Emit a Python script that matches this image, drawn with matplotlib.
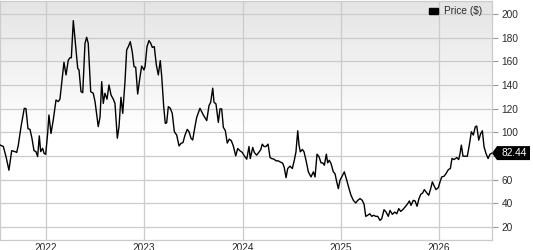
import matplotlib
matplotlib.use("Agg")
import matplotlib.pyplot as plt
from matplotlib.patches import Patch, Polygon
import numpy as np

plt.rcParams['font.family'] = ['Liberation Sans', 'DejaVu Sans']

# decimal years and weekly-ish closing prices
years = [
    2021.532, 2021.566, 2021.593, 2021.623, 2021.651, 2021.684, 2021.702, 2021.718,
    2021.746, 2021.779, 2021.796, 2021.817, 2021.837, 2021.857, 2021.878, 2021.898,
    2021.915, 2021.932, 2021.946, 2021.966, 2021.980, 2021.997, 2022.017, 2022.030,
    2022.051, 2022.074, 2022.102, 2022.125, 2022.142, 2022.163, 2022.183, 2022.204,
    2022.227, 2022.244, 2022.258, 2022.278, 2022.305, 2022.323, 2022.336, 2022.356,
    2022.374, 2022.397, 2022.414, 2022.430, 2022.455, 2022.481, 2022.499, 2022.532,
    2022.550, 2022.567, 2022.583, 2022.600, 2022.621, 2022.641, 2022.662, 2022.685,
    2022.702, 2022.726, 2022.743, 2022.763, 2022.781, 2022.804, 2022.821, 2022.838,
    2022.858, 2022.878, 2022.896, 2022.913, 2022.933, 2022.957, 2022.974, 2022.997,
    2023.008, 2023.028, 2023.048, 2023.066, 2023.082, 2023.102, 2023.123, 2023.143,
    2023.163, 2023.178, 2023.198, 2023.214, 2023.228, 2023.245, 2023.265, 2023.285,
    2023.306, 2023.330, 2023.354, 2023.374, 2023.394, 2023.415, 2023.438, 2023.455,
    2023.476, 2023.493, 2023.516, 2023.534, 2023.567, 2023.601, 2023.636, 2023.659,
    2023.676, 2023.697, 2023.710, 2023.730, 2023.754, 2023.771, 2023.788, 2023.805,
    2023.825, 2023.845, 2023.866, 2023.886, 2023.906, 2023.931, 2023.951, 2023.974,
    2023.998, 2024.018, 2024.043, 2024.066, 2024.079, 2024.104, 2024.120, 2024.144,
    2024.165, 2024.185, 2024.201, 2024.219, 2024.239, 2024.260, 2024.280, 2024.297,
    2024.321, 2024.341, 2024.364, 2024.382, 2024.409, 2024.425, 2024.443, 2024.460,
    2024.483, 2024.507, 2024.527, 2024.544, 2024.562, 2024.575, 2024.588, 2024.609,
    2024.626, 2024.646, 2024.670, 2024.697, 2024.721, 2024.738, 2024.758, 2024.779,
    2024.799, 2024.816, 2024.833, 2024.853, 2024.867, 2024.883, 2024.901, 2024.924,
    2024.941, 2024.959, 2024.975, 2024.992, 2025.010, 2025.036, 2025.061, 2025.084,
    2025.104, 2025.128, 2025.152, 2025.173, 2025.196, 2025.219, 2025.237, 2025.254,
    2025.274, 2025.295, 2025.315, 2025.335, 2025.356, 2025.376, 2025.399, 2025.417,
    2025.440, 2025.461, 2025.484, 2025.501, 2025.525, 2025.549, 2025.570, 2025.590,
    2025.610, 2025.631, 2025.654, 2025.677, 2025.698, 2025.715, 2025.738, 2025.756,
    2025.776, 2025.796, 2025.814, 2025.834, 2025.850, 2025.875, 2025.895, 2025.915,
    2025.932, 2025.952, 2025.969, 2025.993, 2026.010, 2026.027, 2026.051, 2026.071,
    2026.095, 2026.115, 2026.132, 2026.153, 2026.180, 2026.200, 2026.214, 2026.227,
    2026.244, 2026.268, 2026.288, 2026.308, 2026.329, 2026.349, 2026.369, 2026.384,
    2026.404, 2026.424, 2026.441, 2026.458, 2026.478, 2026.499, 2026.519, 2026.539,
]
prices = [
    89.3, 88.0, 79.5, 68.0, 84.5, 83.7, 83.0, 89.0,
    104.8, 120.3, 120.0, 103.0, 102.5, 95.0, 84.5, 83.7,
    79.5, 97.0, 83.7, 86.5, 82.3, 81.4, 99.2, 114.6,
    99.0, 110.4, 127.3, 126.0, 128.0, 144.2, 159.2, 148.5,
    161.0, 163.0, 163.0, 194.4, 169.6, 154.0, 152.7, 134.4,
    133.5, 175.2, 180.3, 175.2, 134.4, 133.0, 126.0, 104.8,
    113.0, 142.8, 124.5, 133.0, 128.0, 140.0, 131.5, 128.0,
    124.5, 95.0, 104.8, 129.6, 116.0, 142.8, 169.6, 172.4,
    176.6, 168.0, 155.5, 155.0, 132.4, 147.0, 156.0, 152.7,
    155.5, 172.4, 177.5, 175.2, 171.8, 172.4, 157.0, 148.5,
    160.6, 147.0, 121.7, 107.6, 108.0, 121.7, 120.3, 116.0,
    100.6, 97.7, 88.5, 90.7, 91.3, 97.7, 102.5, 100.6,
    95.0, 93.5, 104.8, 112.7, 120.3, 114.7, 109.9, 122.6,
    125.4, 137.3, 125.4, 124.0, 108.4, 119.8, 119.8, 104.2,
    101.4, 90.9, 94.3, 92.9, 88.6, 80.1, 86.3, 84.4,
    83.0, 80.1, 77.3, 88.0, 77.8, 87.2, 83.0, 80.7,
    83.0, 85.2, 90.0, 88.0, 88.0, 90.0, 78.7, 77.8,
    77.3, 75.9, 75.9, 75.0, 73.9, 70.2, 61.7, 69.4,
    71.4, 69.4, 76.4, 83.5, 101.3, 89.2, 83.5, 85.5,
    83.5, 76.4, 66.6, 62.3, 66.6, 62.3, 81.5, 79.3,
    74.2, 74.2, 72.2, 81.5, 74.2, 76.4, 73.6, 66.6,
    65.1, 58.1, 52.4, 59.5, 62.3, 66.6, 59.5, 52.4,
    46.8, 42.5, 40.3, 42.5, 44.0, 42.5, 39.2, 29.0,
    29.9, 31.2, 29.0, 29.9, 29.0, 29.0, 25.6, 27.0,
    34.6, 32.6, 29.0, 34.0, 30.7, 32.6, 31.2, 35.5,
    33.2, 34.6, 36.9, 39.2, 42.0, 38.3, 42.5, 42.0,
    37.5, 44.0, 47.6, 48.8, 51.6, 48.8, 46.8, 52.4,
    58.1, 54.4, 51.6, 53.3, 58.1, 62.3, 62.9, 65.1,
    68.5, 69.4, 77.9, 77.0, 78.7, 77.0, 82.1, 89.2,
    79.8, 79.8, 79.8, 89.2, 100.5, 97.7, 104.7, 105.3,
    93.4, 99.0, 101.3, 87.7, 82.1, 77.9, 81.5, 82.44,
]
year_ticks = [2022, 2023, 2024, 2025, 2026]
price_ticks = [20, 40, 60, 80, 100, 120, 140, 160, 180, 200]
last_price = prices[-1]

W, H = 533, 250
fig = plt.figure(figsize=(W / 100, H / 100), dpi=100)
ax = fig.add_axes([0, 10 / H, 492 / W, 239.5 / H])

grid_c = '#cbcbcb'
text_c = '#2a2a2a'

# gray-to-white gradient in the upper part of the plot
fy = np.linspace(1, 0, 256)[:, None]
grad = np.clip((fy - 0.45) / 0.55, 0, 1)
shade = 1 - grad * (1 - 0.895)
ax.imshow(np.dstack([shade, shade, shade]), extent=(0, 1, 0, 1), transform=ax.transAxes,
          aspect='auto', zorder=0, interpolation='bilinear')

ax.plot(years, prices, color='black', lw=1.0, zorder=3)

ax.set_xlim(2021.532, 2026.539)
ax.set_ylim(9, 211.4)
ax.set_xticks(year_ticks)
ax.set_xticklabels([str(y) for y in year_ticks])
ax.set_yticks(price_ticks)
# the 80 label sits under the last-price tag
ax.set_yticklabels(['' if p == 80 else str(p) for p in price_ticks])
ax.yaxis.tick_right()
ax.grid(True, color=grid_c, lw=0.9, zorder=1)
ax.set_axisbelow(True)
for s in ax.spines.values():
    s.set_color(grid_c)
    s.set_linewidth(0.9)
ax.tick_params(axis='x', length=0, pad=2, labelsize=7.3, labelcolor=text_c)
ax.tick_params(axis='y', length=4, width=0.8, color='#9a9a9a', pad=3, labelsize=7.3,
               labelcolor=text_c)

leg = ax.legend(handles=[Patch(facecolor='black', edgecolor='black', label='Price ($)')],
                loc='upper right', bbox_to_anchor=(0.979, 0.975), frameon=False,
                borderpad=0, borderaxespad=0, handlelength=0.9, handleheight=0.45,
                handletextpad=0.5, fontsize=7.3)
for t in leg.get_texts():
    t.set_color(text_c)

# last price tag
fig.canvas.draw()
px, py = ax.transData.transform((ax.get_xlim()[1], last_price))
tag = Polygon([(px, py), (px + 5, py + 7), (px + 38, py + 7), (px + 38, py - 7), (px + 5, py - 7)],
              closed=True, facecolor='black', edgecolor='none', transform=None, clip_on=False)
fig.patches.append(tag)
fig.text((px + 22.5) / W, py / H, f'{last_price:.2f}', color='white', fontsize=7.3,
         ha='center', va='center')

fig.savefig('out.png', dpi=100)
